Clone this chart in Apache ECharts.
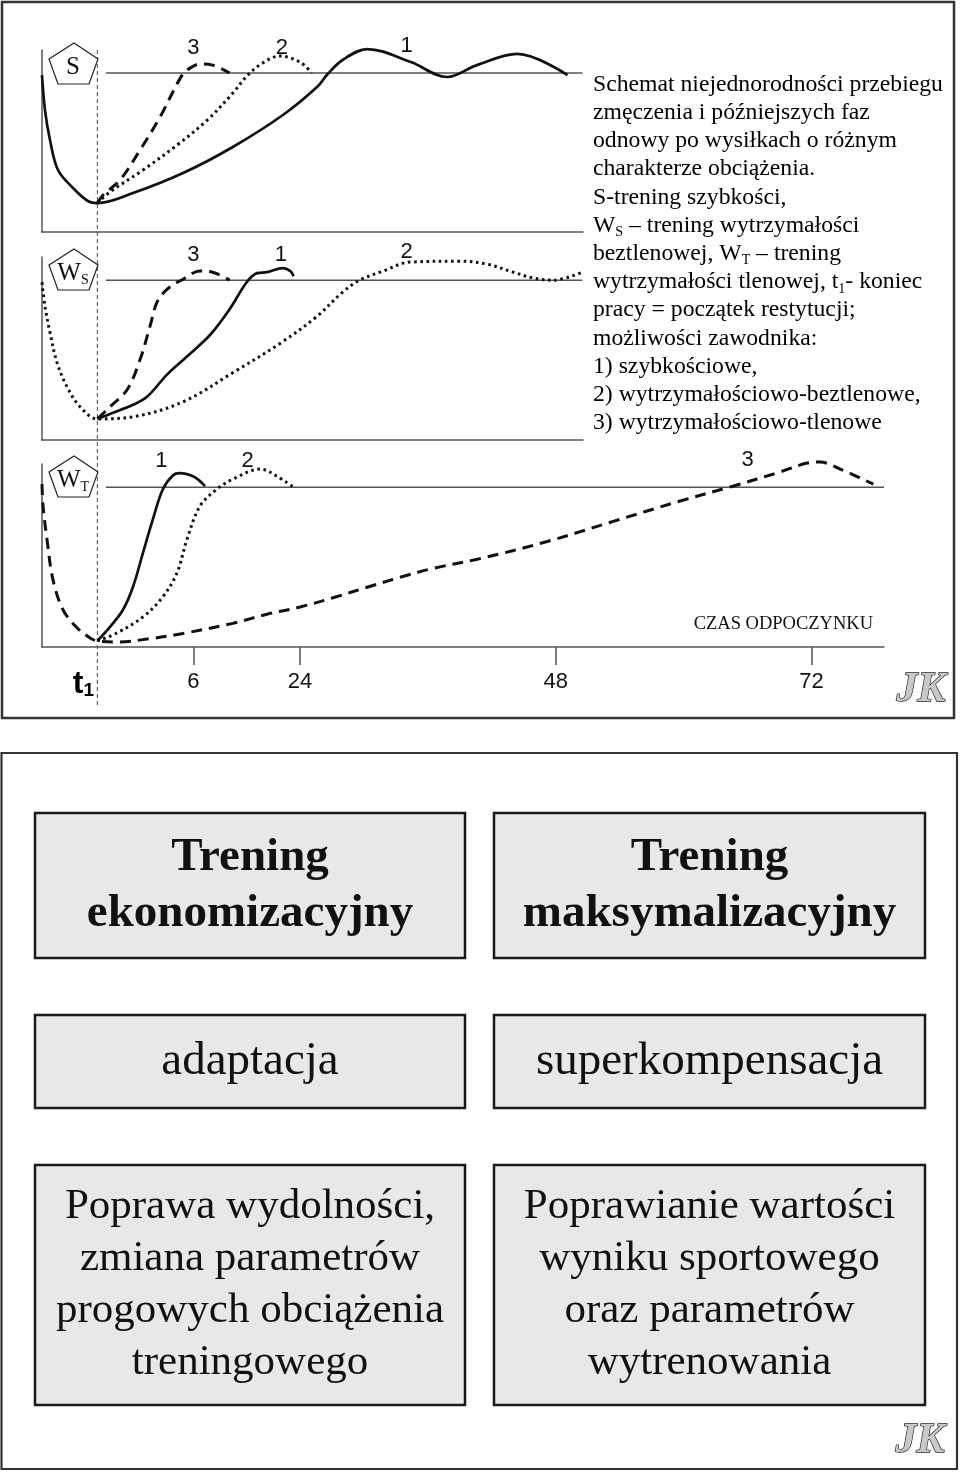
<!DOCTYPE html>
<html><head><meta charset="utf-8">
<script src="https://cdn.jsdelivr.net/npm/echarts@6/dist/echarts.min.js"></script>
<style>html,body{margin:0;padding:0;background:#fff}#c{width:960px;height:1476px}</style>
</head><body><div id="c"></div>
<script>
// ---------- DATA (schematic units: x = time position, t1 = 0; y = % of initial capacity, 100 = baseline) ----------
const xTickValues = [9, 19, 43, 67];
const xTickLabels = ['6', '24', '48', '72'];

// Panel S (speed training)
const S_curve1 = [[-5.2,98.7],[-4.92,76.7],[-4.45,57.9],[-3.7,39.0],[-2.29,27.7],[-0.9,19.5],[0,18.2],[3.34,24.5],[8.03,37.1],[12.7,53.5],[17.4,73.6],[20.6,91.2],[21.6,99.4],[23.0,108.2],[25.3,115.1],[29.4,106.9],[32.8,97.5],[35.6,105.0],[39.4,112.0],[44.1,98.7]];
const S_curve2 = [[0,18.2],[1.18,25.2],[4.28,39.0],[7.47,54.7],[10.3,70.4],[12.7,87.4],[14.1,98.7],[15.5,106.3],[17.1,110.7],[19.0,106.9],[20.1,100]];
const S_curve3 = [[0,18.2],[0.53,23.3],[2.12,32.7],[4.0,51.6],[5.87,72.3],[7.94,98.7],[8.69,103.1],[9.62,105.7],[10.8,105.0],[12.4,100]];

// Panel W_S (anaerobic endurance training)
const WS_curve1 = [[0,13.2],[1.46,17.0],[3.34,22.0],[4.65,27.0],[6.53,40.9],[8.4,52.2],[10.6,66.0],[12.4,81.8],[14.0,98.7],[14.97,104.4],[15.9,105.0],[17.4,107.5],[18.1,105.7],[18.4,102.5]];
const WS_curve2 = [[-5.2,98.7],[-4.92,83.6],[-4.45,67.3],[-3.79,48.4],[-2.85,33.3],[-1.63,20.8],[0,13.2],[3.34,14.5],[8.03,23.9],[12.7,42.1],[17.4,61.6],[20.6,77.4],[23.0,92.5],[24.6,100],[26.8,105.7],[29.3,111.3],[34.0,111.9],[36.5,110.1],[39.0,105.0],[40.9,101.3],[42.7,100],[45.5,105.0]];
const WS_curve3 = [[0,13.2],[1.18,20.8],[2.78,31.4],[4.0,50.3],[4.93,71.1],[5.59,86.2],[6.53,94.3],[8.03,100.6],[9.62,105.7],[10.8,105.0],[12.4,100]];

// Panel W_T (aerobic endurance training)
const WT_curve1 = [[0,3.8],[1.18,12.6],[2.4,23.3],[3.34,37.7],[4.28,59.1],[5.2,79.9],[6.14,98.7],[7.1,107.5],[7.75,108.8],[8.97,106.9],[9.62,103.8],[10.1,100.6]];
const WT_curve2 = [[0,3.8],[1.84,8.8],[4.28,18.9],[6.14,31.4],[7.47,46.5],[8.4,67.3],[9.62,88.1],[11.2,98.7],[12.7,105.0],[15.3,111.3],[16.8,107.0],[18.4,100]];
const WT_curve3 = [[-5.2,101.9],[-5.1,88.1],[-4.73,67.3],[-4.17,42.1],[-3.23,23.3],[-1.91,12.0],[-0.69,5.7],[0,3.8],[1.84,3.1],[4.93,5.2],[8.03,8.5],[12.7,14.8],[15.9,20.5],[19.0,25.0],[22.1,30.8],[25.3,37.4],[28.4,43.6],[31.5,49.2],[35.9,55.3],[42.2,66.0],[48.4,78.6],[54.6,91.2],[59.6,100.6],[64.0,109.4],[66.6,115.1],[67.8,115.7],[69.7,111.3],[72.8,101.9]];

// Baseline (100 %) reference segments per panel: [start, end]
const refStart = 0.8;
const refEnds = [45.5, 45.5, 73.8];
const refLevel = 100;

// Curve number labels: [text, x, y] per panel
const S_labels  = [['3', 9.0, 116], ['2', 17.3, 116], ['1', 29.0, 117]];
const WS_labels = [['3', 9.0, 116], ['1', 17.2, 116], ['2', 29.0, 117.6]];
const WT_labels = [['1', 6.0, 116.4], ['2', 14.1, 116.4], ['3', 61.0, 117]];

const descLines = [
  '{m|Schemat niejednorodności przebiegu}',
  '{m|zmęczenia i późniejszych faz}',
  '{m|odnowy po wysiłkach o różnym}',
  '{m|charakterze obciążenia.}',
  '{m|S-trening szybkości,}',
  '{m|W}{s|S}{m| – trening wytrzymałości}',
  '{m|beztlenowej, W}{s|T}{m| – trening}',
  '{m|wytrzymałości tlenowej, t}{s|1}{m|- koniec}',
  '{m|pracy = początek restytucji;}',
  '{m|możliwości zawodnika:}',
  '{m|1) szybkościowe,}',
  '{m|2) wytrzymałościowo-beztlenowe,}',
  '{m|3) wytrzymałościowo-tlenowe}'
];
const axisTitle = 'CZAS ODPOCZYNKU';
const boxRow1 = ['Trening\nekonomizacyjny', 'Trening\nmaksymalizacyjny'];
const boxRow2 = ['adaptacja', 'superkompensacja'];
const boxRow3 = ['Poprawa wydolności,\nzmiana parametrów\nprogowych obciążenia\ntreningowego',
                 'Poprawianie wartości\nwyniku sportowego\noraz parametrów\nwytrenowania'];

// ---------- CHART ----------
const INK = '#111';
const AX = '#555';
const xMin = -5.2, xMaxTop = 45.55, xMaxBottom = 73.8, yMin = 0, yMax = 114.5;

const grids = [
  {left: 42, top: 50,  width: 541, height: 182, outerBoundsMode: 'none'},
  {left: 42, top: 257, width: 541, height: 183, outerBoundsMode: 'none'},
  {left: 42, top: 464, width: 842, height: 183, outerBoundsMode: 'none'}
];

function xAxisFor(i) {
  const bottom = i === 2;
  return {
    gridIndex: i, type: 'value', min: xMin, max: bottom ? xMaxBottom : xMaxTop,
    axisLine: {show: true, onZero: false, lineStyle: {color: AX, width: 1.5}},
    axisTick: bottom ? {show: true, customValues: xTickValues, length: 18, lineStyle: {color: AX, width: 1.5}} : {show: false},
    axisLabel: bottom ? {show: true, customValues: xTickValues, margin: 24,
      formatter: v => xTickLabels[xTickValues.indexOf(v)] || '',
      fontSize: 22, fontFamily: 'Liberation Sans', color: INK} : {show: false},
    splitLine: {show: false}
  };
}
function yAxisFor(i) {
  return {
    gridIndex: i, type: 'value', min: yMin, max: yMax,
    axisLine: {show: true, onZero: false, lineStyle: {color: AX, width: 1.5}},
    axisTick: {show: false}, axisLabel: {show: false}, splitLine: {show: false}
  };
}
const solid = {color: INK, width: 2.7, type: 'solid'};
const dashed = {color: INK, width: 3, type: [11, 7]};
const dotted = {color: INK, width: 3, type: [2.6, 3.6]};

function curve(i, data, ls) {
  return {type: 'line', xAxisIndex: i, yAxisIndex: i, data: data, symbol: 'none',
          smooth: 0.35, clip: false, lineStyle: ls, silent: true, animation: false};
}
function ref(i) {
  return {type: 'line', xAxisIndex: i, yAxisIndex: i, data: [[refStart, refLevel], [refEnds[i], refLevel]],
          symbol: 'none', lineStyle: {color: AX, width: 1.5}, silent: true, animation: false};
}

const series = [
  ref(0), curve(0, S_curve1, solid), curve(0, S_curve2, dotted), curve(0, S_curve3, dashed),
  ref(1), curve(1, WS_curve1, solid), curve(1, WS_curve2, dotted), curve(1, WS_curve3, dashed),
  ref(2), curve(2, WT_curve1, solid), curve(2, WT_curve2, dotted), curve(2, WT_curve3, dashed)
];

const chart = echarts.init(document.getElementById('c'), null, {renderer: 'canvas', width: 960, height: 1476});
chart.setOption({
  animation: false,
  backgroundColor: '#fff',
  grid: grids,
  xAxis: [0, 1, 2].map(xAxisFor),
  yAxis: [0, 1, 2].map(yAxisFor),
  series: series
});

// ---------- DECORATIONS ----------
const g = [];
const serif = 'Liberation Serif';
const sans = 'Liberation Sans';

// frames
g.push({type: 'rect', shape: {x: 2, y: 2, width: 952, height: 716}, style: {fill: 'none', stroke: '#333', lineWidth: 2.5}});
g.push({type: 'rect', shape: {x: 1.5, y: 753, width: 955.5, height: 716}, style: {fill: 'none', stroke: '#333', lineWidth: 2.2}});

// t1 vertical dashed line
const t1x = chart.convertToPixel({xAxisIndex: 2}, 0);
g.push({type: 'line', shape: {x1: t1x, y1: 50, x2: t1x, y2: 706}, style: {stroke: '#666', lineWidth: 1.2, lineDash: [4, 3]}});

// pentagons
function pentagon(dy, rich, text) {
  g.push({type: 'polygon', shape: {points: [[74, 43 + dy], [98, 59 + dy], [89, 84 + dy], [58, 84 + dy], [49, 59 + dy]]},
          style: {fill: '#fff', stroke: '#222', lineWidth: 1.2}, z: 10});
  g.push({type: 'text', x: 73, y: 67 + dy, z: 11,
          style: {text: text, rich: rich, align: 'center', verticalAlign: 'middle', fill: INK}});
}
const pentRich = {
  m: {fontSize: 25, fontFamily: serif, color: INK, lineHeight: 28},
  s: {fontSize: 14, fontFamily: serif, color: INK, lineHeight: 14, verticalAlign: 'bottom'}
};
pentagon(0, pentRich, '{m|S}');
pentagon(206, pentRich, '{m|W}{s|S}');
pentagon(413, pentRich, '{m|W}{s|T}');

// curve number labels
function labels(i, arr) {
  arr.forEach(function (L) {
    const p = chart.convertToPixel({xAxisIndex: i, yAxisIndex: i}, [L[1], L[2]]);
    g.push({type: 'text', x: p[0], y: p[1], style: {text: L[0], font: '22px "Liberation Sans"', fill: INK, align: 'center', verticalAlign: 'middle'}});
  });
}
labels(0, S_labels); labels(1, WS_labels); labels(2, WT_labels);

// t1 axis label
g.push({type: 'text', x: 94, y: 684, style: {
  text: '{t|t}{s|1}', align: 'right', verticalAlign: 'middle',
  rich: {t: {fontSize: 32, fontWeight: 'bold', fontFamily: sans, color: INK, lineHeight: 32},
         s: {fontSize: 19, fontWeight: 'bold', fontFamily: sans, color: INK, lineHeight: 20, verticalAlign: 'bottom'}}}});

// axis title
g.push({type: 'text', x: 873, y: 624, style: {text: axisTitle, font: '18.5px "Liberation Serif"', fill: INK, align: 'right', verticalAlign: 'middle'}});

// description
descLines.forEach(function (line, k) {
  g.push({type: 'text', x: 593, y: 84.5 + 28.2 * k, style: {
    text: line, align: 'left', verticalAlign: 'middle',
    rich: {m: {fontSize: 23.7, fontFamily: serif, color: INK, lineHeight: 28},
           s: {fontSize: 14, fontFamily: serif, color: INK, lineHeight: 16, verticalAlign: 'bottom'}}}});
});

// JK logos
function jk(cx, cy) {
  g.push({type: 'text', x: cx, y: cy, style: {text: 'JK', font: 'italic bold 42px "Liberation Serif"', fill: '#c8c8c8',
          stroke: '#222', lineWidth: 1.3, align: 'center', verticalAlign: 'middle'}});
}
jk(921, 690); jk(920, 1441);

// boxes
function box(x, y, w, h, text, font, lh) {
  g.push({type: 'rect', shape: {x: x, y: y, width: w, height: h}, style: {fill: '#e8e8e8', stroke: '#1a1a1a', lineWidth: 2.5}});
  g.push({type: 'text', x: x + w / 2, y: y + h / 2, style: {text: text, font: font, lineHeight: lh, fill: INK, align: 'center', verticalAlign: 'middle'}});
}
box(35, 813, 430, 145, boxRow1[0], 'bold 47px "Liberation Serif"', 56);
box(494, 813, 431, 145, boxRow1[1], 'bold 47px "Liberation Serif"', 56);
box(35, 1015, 430, 93, boxRow2[0], '47px "Liberation Serif"', 50);
box(494, 1015, 431, 93, boxRow2[1], '47px "Liberation Serif"', 50);
box(35, 1165, 430, 240, boxRow3[0], '43px "Liberation Serif"', 52);
box(494, 1165, 431, 240, boxRow3[1], '43px "Liberation Serif"', 52);

chart.setOption({graphic: {elements: g}});
</script>
</body></html>
